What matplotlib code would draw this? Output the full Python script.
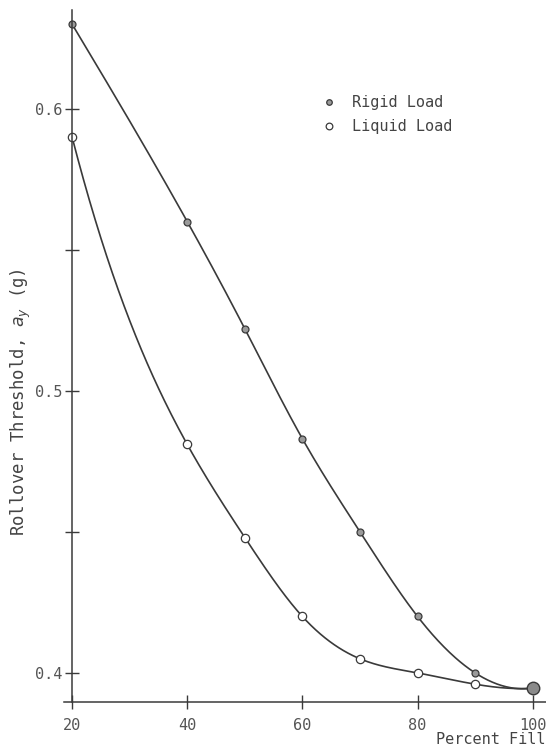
import matplotlib
matplotlib.use('Agg')
import matplotlib.pyplot as plt
import numpy as np

# values
percent_fill = [20, 40, 50, 60, 70, 80, 90, 100]
rigid_load = [0.630, 0.560, 0.522, 0.483, 0.450, 0.420, 0.400, 0.3946]
liquid_load = [0.590, 0.481, 0.448, 0.420, 0.405, 0.400, 0.396, 0.3946]
x_ticks = [20, 40, 60, 80, 100]
y_ticks = [0.4, 0.5, 0.6]
y_minor = [0.45, 0.55]

plt.rcParams['font.family'] = ['DejaVu Sans Mono', 'DejaVu Sans']
ink = '#3a3a3a'


def spline(x, y, xs):
	# not-a-knot cubic spline, stands in for the drafted french-curve line
	x = np.asarray(x, float)
	y = np.asarray(y, float)
	n = len(x)
	h = np.diff(x)
	A = np.zeros((n, n))
	b = np.zeros(n)
	A[0, 0] = h[1]
	A[0, 1] = -(h[0] + h[1])
	A[0, 2] = h[0]
	A[-1, -3] = h[-1]
	A[-1, -2] = -(h[-2] + h[-1])
	A[-1, -1] = h[-2]
	for i in range(1, n - 1):
		A[i, i-1] = h[i-1]
		A[i, i] = 2*(h[i-1] + h[i])
		A[i, i+1] = h[i]
		b[i] = 6*((y[i+1] - y[i])/h[i] - (y[i] - y[i-1])/h[i-1])
	M = np.linalg.solve(A, b)
	out = np.empty_like(xs)
	for j, xv in enumerate(xs):
		k = min(np.searchsorted(x, xv, side='right') - 1, n - 2)
		a = x[k+1] - xv
		c = xv - x[k]
		out[j] = (M[k]*a**3 + M[k+1]*c**3)/(6*h[k]) \
			+ (y[k]/h[k] - M[k]*h[k]/6)*a + (y[k+1]/h[k] - M[k+1]*h[k]/6)*c
	return out


fig = plt.figure(figsize=(5.46, 7.52), dpi=100)
ax = fig.add_axes([64/546, 0.0669, 1 - 64/546, 0.9867 - 0.0669])
ax.set_xlim(18.6, 102.3)
ax.set_ylim(0.3898, 0.635)

xs = np.linspace(20, 100, 400)
ax.plot(xs, spline(percent_fill, rigid_load, xs), color=ink, lw=1.2)
ax.plot(xs, spline(percent_fill, liquid_load, xs), color=ink, lw=1.2)
ax.plot(percent_fill, rigid_load, ls='none', marker='o', ms=5, mfc='#9a9a9a',
	mec=ink, mew=0.9, label='Rigid Load')
ax.plot(percent_fill, liquid_load, ls='none', marker='o', ms=6, mfc='white',
	mec=ink, mew=0.9, label='Liquid Load')
ax.plot([percent_fill[-1]], [rigid_load[-1]], ls='none', marker='o', ms=9,
	mfc='#8a8a8a', mec=ink, mew=1.0)

for s in ['top', 'right']:
	ax.spines[s].set_visible(False)
for s in ['left', 'bottom']:
	ax.spines[s].set_color(ink)
	ax.spines[s].set_linewidth(1.1)
ax.spines['left'].set_position(('data', 20))

ax.set_xticks(x_ticks)
ax.set_yticks(y_ticks)
ax.set_yticks(y_minor, minor=True)
ax.set_yticklabels(['0.4', '0.5', '0.6'])
ax.tick_params(axis='both', which='both', direction='inout', length=10, width=1,
	color=ink, labelcolor='#555555', labelsize=11)
ax.tick_params(axis='x', pad=7)
ax.tick_params(axis='y', pad=2)

fig.text(21/546, 1 - 402/752, r'Rollover Threshold, $a_y$ (g)', rotation=90,
	ha='center', va='center', fontsize=12.5, color='#444444')
fig.text(545/546, 1 - 740/752, 'Percent Fill', ha='right', va='center',
	fontsize=11, color='#444444')

ax.legend(loc='upper left', bbox_to_anchor=(324/546, 1 - 95/752), bbox_transform=fig.transFigure,
	frameon=False, borderpad=0, borderaxespad=0, handlelength=0.6, handletextpad=1.2,
	labelspacing=0.6, fontsize=11, labelcolor='#444444', markerscale=0.8)

fig.savefig('out.png', dpi=100)
